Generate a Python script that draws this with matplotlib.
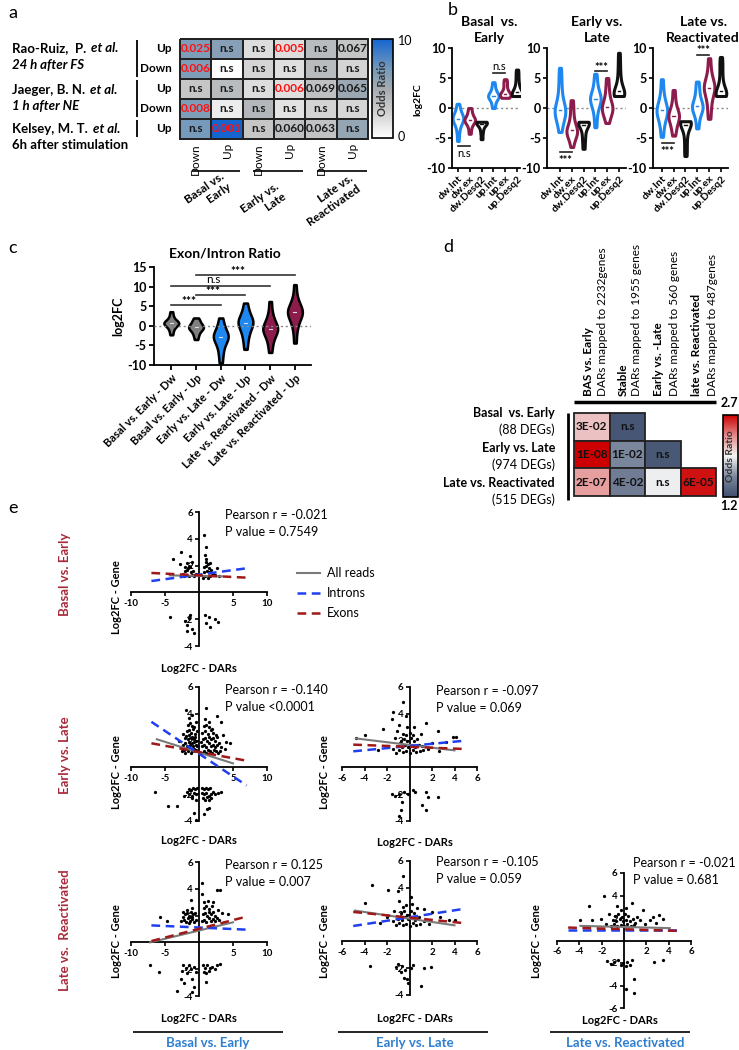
import matplotlib
matplotlib.use('Agg')
import matplotlib.pyplot as plt
import numpy as np
from matplotlib.colors import LinearSegmentedColormap, Normalize
from matplotlib.lines import Line2D
from matplotlib.patches import Rectangle
from matplotlib.cm import ScalarMappable

plt.rcParams['font.family'] = ['Lato', 'DejaVu Sans']
plt.rcParams['axes.linewidth'] = 1.3

# ---------------- data ----------------
# panel a
a_studies = [[('Rao-Ruiz,  P. ', 'normal'), ('et al.', 'italic')],
             [('24 h after FS', 'italic')],
             [('Jaeger, B. N. ', 'normal'), ('et al.', 'italic')],
             [('1 h after NE', 'italic')],
             [('Kelsey, M. T. ', 'normal'), ('et al.', 'italic')],
             [('6h after stimulation', 'normal')]]
a_rows = ['Up', 'Down', 'Up', 'Down', 'Up']
a_cols = ['Down', 'Up', 'Down', 'Up', 'Down', 'Up']
a_groups = ['Basal vs.\nEarly', 'Early vs.\nLate', 'Late vs.\nReactivated']
a_odds = [[6.6, 6.2, 1.9, 1.9, 3.9, 3.3],
          [6.6, 0.1, 2.4, 1.8, 3.9, 2.4],
          [3.2, 3.9, 1.9, 1.8, 3.6, 5.4],
          [6.6, 1.0, 4.2, 1.6, 2.4, 2.3],
          [6.9, 10.0, 3.2, 3.6, 3.5, 5.7]]
a_pvals = [['0.025', 'n.s', 'n.s', '0.005', 'n.s', '0.067'],
           ['0.006', 'n.s', 'n.s', 'n.s', 'n.s', 'n.s'],
           ['n.s', 'n.s', 'n.s', '0.006', '0.069', '0.065'],
           ['0.008', 'n.s', 'n.s', 'n.s', 'n.s', 'n.s'],
           ['n.s', '0.001', 'n.s', '0.060', '0.063', 'n.s']]

# panel b
b_titles = ['Basal  vs.\nEarly', 'Early vs.\nLate', 'Late vs.\nReactivated']
b_cats = ['dw.Int', 'dw.ex', 'dw.Desq2', 'up.Int', 'up.ex', 'up.Desq2']
b_be = [[-5.5, -4.2, -3.3, -2.8, -2.4, -2.1, -1.9, -1.8, -1.7, -1.5, -1.3, -1.0, -0.6, 0.0, 0.7],
        [-4.3, -3.4, -2.8, -2.4, -2.2, -2.1, -2.0, -1.9, -1.7, -1.4, -1.0, -0.5, 0.0],
        [-5.2, -4.2, -3.5, -3.0, -2.7, -2.5, -2.4, -2.35, -2.3, -2.3],
        [0.0, 0.6, 1.2, 1.6, 1.8, 1.9, 2.0, 2.1, 2.3, 2.6, 3.0, 3.6, 4.3],
        [1.7, 1.9, 2.0, 2.1, 2.2, 2.3, 2.5, 2.8, 3.2, 3.8, 4.3, 4.8],
        [2.0, 2.05, 2.1, 2.2, 2.3, 2.5, 2.8, 3.2, 3.8, 4.6, 5.5, 6.4]]
b_el = [[-4.0, -2.8, -2.0, -1.4, -1.0, -0.7, -0.5, -0.3, 0.0, 0.5, 1.2, 2.2, 3.5, 5.0, 6.7],
        [-6.5, -5.3, -4.7, -4.3, -4.1, -3.9, -3.7, -3.4, -2.9, -2.2, -1.2, 0.0, 1.3],
        [-6.8, -5.5, -4.5, -3.6, -3.0, -2.6, -2.4, -2.35, -2.3, -2.3],
        [-3.2, -1.5, -0.3, 0.5, 1.0, 1.3, 1.5, 1.7, 2.0, 2.5, 3.2, 4.3, 5.7],
        [-2.5, -1.6, -1.0, -0.6, -0.3, 0.0, 0.2, 0.5, 1.0, 1.6, 2.5, 3.6, 5.0],
        [2.0, 2.05, 2.1, 2.2, 2.3, 2.5, 2.8, 3.2, 3.9, 4.8, 6.0, 7.5, 9.2]]
b_lr = [[-4.8, -3.3, -2.3, -1.6, -1.1, -0.8, -0.5, -0.3, 0.0, 0.4, 1.0, 1.8, 3.0, 4.8],
        [-4.6, -3.6, -2.9, -2.3, -1.8, -1.5, -1.3, -1.1, -0.8, -0.3, 0.4, 1.5, 3.0],
        [-8.0, -6.5, -5.0, -3.8, -3.0, -2.6, -2.4, -2.3, -2.25, -2.2],
        [-3.4, -2.0, -1.0, -0.5, -0.2, 0.1, 0.3, 0.5, 0.9, 1.5, 2.3, 3.3, 4.4],
        [-1.8, -0.3, 1.0, 2.0, 2.7, 3.1, 3.4, 3.6, 3.9, 4.4, 5.2, 6.5, 8.3],
        [2.0, 2.05, 2.1, 2.2, 2.3, 2.5, 2.8, 3.3, 4.0, 5.0, 6.2, 7.4, 8.5]]
# significance: (pos1, pos2, line level, label)
b_sig = [[(1, 2, -6.3, 'n.s'), (4, 5, 5.9, 'n.s')],
         [(1, 2, -7.4, '***'), (4, 5, 6.2, '***')],
         [(1, 2, -5.9, '***'), (4, 5, 8.9, '***')]]

# panel c
c_cats = ['Basal vs. Early - Dw', 'Basal vs. Early - Up', 'Early vs. Late - Dw',
          'Early vs. Late - Up', 'Late vs. Reactivated - Dw', 'Late vs. Reactivated - Up']
c_vals = [[-2.3, -1.3, -0.6, -0.1, 0.3, 0.5, 0.6, 0.7, 0.8, 1.0, 1.3, 1.8, 2.6, 3.6],
          [-3.5, -2.5, -1.8, -1.2, -0.8, -0.6, -0.4, -0.2, 0.0, 0.4, 0.9, 1.4, 2.0],
          [-9.5, -7.5, -6.0, -4.8, -4.0, -3.4, -3.0, -2.7, -2.4, -2.0, -1.4, -0.6, 0.6, 2.0],
          [-6.0, -4.0, -2.6, -1.5, -0.6, 0.0, 0.5, 0.9, 1.2, 1.6, 2.2, 3.0, 4.2, 5.8],
          [-6.8, -4.8, -3.4, -2.4, -1.7, -1.2, -0.9, -0.6, -0.3, 0.2, 1.0, 2.0, 3.5, 6.2],
          [-4.4, -1.5, 0.3, 1.5, 2.3, 2.9, 3.3, 3.6, 3.9, 4.3, 5.0, 6.0, 7.5, 10.5]]
c_sig = [(1, 3, 5.3, '***'), (2, 4, 7.9, '***'), (1, 5, 10.2, 'n.s'), (2, 6, 13.0, '***')]

# panel d
d_cols_bold = ['BAS vs. Early', 'Stable', 'Early vs. -Late', 'late vs. Reactivated']
d_cols_sub = ['DARs mapped to 2232genes', 'DARs mapped to 1955 genes',
              'DARs mapped to 560 genes', 'DARs mapped to 487genes']
d_rows = ['Basal  vs. Early', 'Early vs. Late', 'Late vs. Reactivated']
d_rows_sub = ['(88 DEGs)', '(974 DEGs)', '(515 DEGs)']
d_odds = [[2.13, 1.25, np.nan, np.nan],
          [2.70, 1.57, 1.26, np.nan],
          [2.25, 1.50, 1.93, 2.65]]
d_pvals = [['3E-02', 'n.s', '', ''],
           ['1E-08', '1E-02', 'n.s', ''],
           ['2E-07', '4E-02', 'n.s', '6E-05']]

# panel e
e_rows = ['Basal vs. Early', 'Early vs. Late', 'Late vs.  Reactivated']
e_cols = ['Basal vs. Early', 'Early vs. Late', 'Late vs. Reactivated']
e_stats = {'be_be': ('Pearson r = -0.021', 'P value = 0.7549'),
           'el_be': ('Pearson r = -0.140', 'P value <0.0001'),
           'el_el': ('Pearson r = -0.097', 'P value = 0.069'),
           'lr_be': ('Pearson r = 0.125', 'P value = 0.007'),
           'lr_el': ('Pearson r = -0.105', 'P value = 0.059'),
           'lr_lr': ('Pearson r = -0.021', 'P value = 0.681')}
# regression fits: (x start, y start, x end, y end) for All reads, Introns, Exons
e_fits = {'be_be': [(-4.3, 1.27, 3.3, 1.2), (-7, 0.85, 7, 1.8), (-7, 1.45, 7, 1.1)],
          'el_be': [(-6.2, 2.1, 5.0, 0.3), (-7, 3.4, 7, -1.35), (-7, 1.8, 7, 0.5)],
          'el_el': [(-4.75, 2.16, 4.0, 1.27), (-5, 1.2, 5, 2.0), (-5, 1.7, 5, 1.37)],
          'lr_be': [(-7.2, 0.0, 5.0, 1.5), (-7, 1.27, 7, 0.95), (-7, 0.1, 6.8, 1.9)],
          'lr_el': [(-4.85, 2.3, 4.0, 1.2), (-5, 1.15, 5, 2.45), (-5, 2.2, 5, 1.35)],
          'lr_lr': [(-3.9, 1.3, 4.1, 1.1), (-5, 0.93, 5, 0.93), (-5, 1.15, 5, 0.85)]}
e_pts_be_be = [(-3.8, 2.5), (-2.6, 3.0), (-1.3, 2.75), (-2.8, 2.1), (-1.6, 1.8), (-2.2, 1.2), (-1.9, 1.3),
               (-1.5, 1.2), (-1.1, 1.3), (-0.7, 1.2), (-2.0, 1.6), (-1.7, 1.7), (-1.2, 1.5), (-0.9, 1.6),
               (-2.4, 1.4), (-1.4, 2.0), (-0.5, 1.4), (-1.8, 2.2), (-1.0, 2.3), (-1.3, 1.9), (-2.1, 1.9),
               (0.7, 4.25), (1.1, 3.4), (1.1, 2.5), (2.6, 1.8), (3.0, 1.2), (0.6, 1.1), (0.9, 1.2),
               (1.3, 1.1), (1.6, 1.2), (1.9, 1.3), (0.8, 1.5), (1.2, 1.6), (1.5, 1.5), (2.0, 1.4),
               (0.7, 1.9), (1.0, 2.0), (1.4, 1.8), (1.8, 1.7), (2.3, 1.3), (1.1, 2.3), (1.6, 2.2),
               (0.9, 2.8), (1.3, 2.1),
               (-4.3, -1.8), (-2.1, -2.1), (-1.8, -2.4), (-1.3, -1.7), (-1.0, -2.7), (-0.8, -3.0),
               (-1.8, -2.9), (0.9, -1.7), (1.4, -1.8), (1.1, -2.3), (1.6, -2.6), (2.8, -2.2), (2.3, -2.0),
               (-1.5, -1.9)]
e_pts_el_be = [(-2.5, 1.2), (-2.2, 1.3), (-2.0, 1.1), (-1.8, 1.4), (-1.6, 1.2), (-1.4, 1.35), (-1.2, 1.1),
               (-1.0, 1.25), (-0.8, 1.4), (-0.6, 1.2), (-0.4, 1.3), (-2.3, 1.7), (-2.0, 1.85), (-1.7, 1.6),
               (-1.5, 1.9), (-1.3, 1.7), (-1.1, 1.8), (-0.9, 1.6), (-0.7, 1.9), (-0.5, 1.7), (-0.3, 1.6),
               (-2.1, 2.2), (-1.9, 2.35), (-1.6, 2.1), (-1.4, 2.4), (-1.2, 2.2), (-1.0, 2.3), (-0.8, 2.1),
               (-0.6, 2.25), (-0.4, 2.0), (-1.8, 2.7), (-1.5, 2.8), (-1.2, 2.6), (-0.9, 2.9), (-0.6, 2.5),
               (-1.6, 3.2), (-1.3, 3.35), (-1.0, 3.1), (-0.7, 3.0), (-1.4, 3.7), (-1.1, 3.9), (-2.7, 1.5),
               (-3.0, 2.0), (-1.9, 4.3), (-2.4, 2.5), (-0.35, 2.7), (-0.5, 3.4), (-1.7, 1.45),
               (0.4, 1.1), (0.7, 1.25), (1.0, 1.1), (1.3, 1.3), (1.6, 1.2), (1.9, 1.1), (2.2, 1.3),
               (2.5, 1.2), (2.8, 1.1), (3.1, 1.25), (0.5, 1.6), (0.8, 1.7), (1.1, 1.5), (1.4, 1.8),
               (1.7, 1.6), (2.0, 1.7), (2.3, 1.5), (2.6, 1.65), (2.9, 1.8), (3.3, 1.5), (0.6, 2.1),
               (0.9, 2.2), (1.2, 2.0), (1.5, 2.3), (1.8, 2.1), (2.1, 2.2), (2.4, 2.0), (2.7, 2.3),
               (0.5, 2.6), (0.9, 2.7), (1.3, 2.5), (1.7, 2.8), (2.1, 2.6), (2.5, 2.4), (0.7, 3.1),
               (1.1, 3.2), (1.5, 3.0), (1.9, 2.9), (0.9, 3.6), (1.4, 3.4), (3.6, 2.4), (4.0, 1.9),
               (4.5, 1.8), (3.3, 3.4), (2.6, 3.8), (1.0, 4.4), (3.8, 1.4), (0.3, 1.9),
               (-0.3, -1.5), (-0.6, -1.6), (-0.9, -1.5), (-1.2, -1.7), (-1.5, -1.6), (-0.4, -2.0),
               (-0.8, -1.9), (-1.1, -2.1), (-1.4, -2.0), (-0.5, -2.4), (-1.0, -2.3), (-1.8, -1.8),
               (-2.2, -2.1), (-4.5, -2.9), (-3.2, -2.9), (-0.7, -3.4), (-6.4, -1.8), (-0.5, -3.9),
               (0.4, -1.5), (0.7, -1.6), (1.0, -1.5), (1.3, -1.6), (1.6, -1.5), (0.5, -1.9), (0.8, -2.0),
               (1.1, -1.9), (1.4, -2.1), (1.7, -2.0), (2.0, -1.8), (0.6, -2.3), (0.9, -2.4), (1.2, -2.2),
               (1.5, -2.4), (1.8, -2.3), (2.3, -2.0), (2.8, -1.9), (3.3, -1.8), (1.2, -3.1), (0.8, -3.5),
               (1.5, -3.0)]
e_pts_el_el = [(-0.6, 4.9), (-1.5, 4.1), (-1.6, 3.6), (-2.4, 2.9), (-4.0, 2.4), (-4.8, 2.2), (1.5, 3.3),
               (2.5, 2.7), (3.85, 2.26), (4.1, 2.3), (3.2, 1.9), (-0.9, 3.2), (-0.3, 3.8), (0.4, 3.0),
               (-1.2, 1.1), (-0.9, 1.3), (-0.6, 1.15), (-0.3, 1.25), (0.0, 1.1), (0.3, 1.3), (0.6, 1.15),
               (0.9, 1.2), (1.2, 1.3), (-1.0, 1.6), (-0.7, 1.5), (-0.4, 1.7), (-0.1, 1.55), (0.2, 1.65),
               (0.5, 1.5), (0.8, 1.7), (1.1, 1.6), (-0.8, 2.0), (-0.5, 2.1), (-0.2, 1.95), (0.1, 2.2),
               (0.4, 2.0), (0.7, 2.1), (-0.6, 2.5), (-0.3, 2.4), (0.0, 2.6), (0.3, 2.45), (-1.5, 1.4),
               (-2.0, 1.6), (1.6, 1.4), (2.0, 1.8), (-1.3, 2.2), (1.0, 2.5), (-2.8, 1.3), (2.6, 1.2),
               (-0.2, 3.0), (-1.1, 2.7),
               (-1.6, -1.95), (-1.3, -2.1), (-0.9, -1.95), (-0.5, -1.8), (-0.1, -2.0), (0.3, -1.7),
               (-0.7, -2.6), (-0.8, -3.2), (-0.9, -3.6), (1.5, -1.8), (1.6, -2.2), (2.5, -2.2),
               (1.1, -2.8), (1.5, -3.2), (0.45, -1.8)]
e_pts_lr_be = [(-5.7, 1.9), (-4.7, 1.6), (-2.4, 1.9), (-1.0, 2.6), (-1.2, 3.2), (-2.6, 1.6), (-2.2, 1.7),
               (-1.9, 1.55), (-1.6, 1.8), (-1.3, 1.6), (-1.0, 1.75), (-0.7, 1.55), (-0.4, 1.7), (-2.1, 2.1),
               (-1.8, 2.2), (-1.5, 2.0), (-1.2, 2.3), (-0.9, 2.1), (-0.6, 2.2), (-1.7, 2.4), (-1.1, 1.9),
               (-2.3, 2.3), (-1.4, 1.45),
               (0.5, 4.4), (0.4, 3.6), (2.6, 3.9), (3.1, 3.9), (4.3, 2.1), (2.1, 3.0), (0.5, 1.6),
               (0.8, 1.7), (1.1, 1.55), (1.4, 1.8), (1.7, 1.6), (2.0, 1.75), (2.3, 1.6), (2.6, 1.8),
               (3.0, 1.65), (0.6, 2.1), (0.9, 2.2), (1.2, 2.0), (1.5, 2.3), (1.8, 2.1), (2.1, 2.25),
               (2.4, 2.0), (2.8, 2.4), (0.7, 2.6), (1.1, 2.7), (1.5, 2.5), (1.9, 2.75), (3.4, 2.2),
               (1.3, 3.1), (0.8, 3.0),
               (-7.2, -1.65), (-5.9, -2.2), (-2.7, -2.7), (-2.2, -3.0), (-1.0, -2.7), (-3.2, -3.6),
               (-1.0, -3.7), (-0.7, -3.3), (-2.3, -1.7), (-1.9, -1.9), (-1.5, -1.7), (-1.2, -2.0),
               (-0.8, -1.8), (-0.5, -2.2), (-1.7, -2.3), (-2.5, -2.1), (1.1, -2.95), (1.6, -1.9),
               (3.1, -1.6), (0.6, -1.7), (0.9, -1.9), (1.2, -1.7), (1.5, -2.1), (1.9, -1.8), (2.3, -2.0),
               (0.7, -2.2), (1.0, -2.3), (2.6, -1.7)]
e_pts_lr_el = [(-3.3, 4.2), (-0.6, 4.9), (-1.0, 3.75), (-1.9, 3.8), (0.1, 3.3), (-4.0, 2.9), (1.3, 2.4),
               (4.0, 1.6), (3.5, 1.6), (2.0, 2.2), (-1.2, 1.2), (-0.9, 1.35), (-0.6, 1.2), (-0.3, 1.3),
               (0.0, 1.15), (0.3, 1.35), (0.6, 1.2), (0.9, 1.3), (-1.0, 1.7), (-0.7, 1.6), (-0.4, 1.8),
               (-0.1, 1.65), (0.2, 1.75), (0.5, 1.6), (0.8, 1.8), (-0.8, 2.1), (-0.5, 2.25), (-0.2, 2.0),
               (0.1, 2.3), (0.4, 2.1), (-0.6, 2.6), (-0.3, 2.7), (0.2, 2.8), (-1.5, 1.5), (-2.0, 1.8),
               (1.3, 1.5), (1.7, 1.3), (-1.4, 2.3), (-0.9, 3.0), (-2.6, 1.4), (2.7, 1.8), (0.7, 2.5),
               (-1.0, -1.7), (-0.7, -1.85), (-0.4, -2.1), (0.1, -2.0), (-0.8, -2.3), (-0.5, -2.7),
               (-0.2, -2.8), (-0.1, -3.1), (1.0, -3.3), (1.3, -2.0), (1.9, -1.9), (-3.5, -1.8),
               (-1.2, -1.9), (0.3, -1.75)]
e_pts_lr_lr = [(-1.8, 3.95), (0.7, 3.3), (-3.1, 3.05), (-3.9, 1.8), (-2.9, 1.8), (1.7, 2.7), (3.1, 2.25),
               (3.5, 1.9), (2.3, 1.8), (1.4, 1.8), (-1.2, 1.3), (-0.9, 1.45), (-0.6, 1.3), (-0.3, 1.4),
               (0.0, 1.25), (0.3, 1.45), (0.6, 1.3), (0.9, 1.4), (-1.0, 1.8), (-0.7, 1.7), (-0.4, 1.9),
               (-0.1, 1.75), (0.2, 1.85), (0.5, 1.7), (0.8, 1.9), (-0.8, 2.2), (-0.5, 2.35), (-0.2, 2.1),
               (0.1, 2.4), (0.4, 2.2), (-0.3, 2.7), (0.2, 2.9), (-1.6, 1.5), (-2.1, 1.9), (1.2, 2.1),
               (1.9, 1.5), (2.6, 2.1), (-1.3, 2.4), (1.0, 1.6), (2.9, 1.6), (-0.6, 3.1),
               (-0.9, -1.9), (-0.5, -1.75), (-0.1, -2.0), (0.3, -1.9), (0.7, -1.75), (-1.2, -2.1),
               (2.7, -1.9), (3.5, -1.7), (0.9, -3.45), (0.2, -4.35), (0.9, -4.65), (0.2, -2.3),
               (-0.3, -2.2), (0.5, -2.15), (-1.5, -1.8)]

# ---------------- figure helpers ----------------
W, H = 739, 1050
fig = plt.figure(figsize=(W / 100, H / 100), dpi=100)
renderer = fig.canvas.get_renderer()


def AX(x0, y0, x1, y1):
    ax = fig.add_axes([x0 / W, 1 - y1 / H, (x1 - x0) / W, (y1 - y0) / H])
    ax.patch.set_alpha(0)
    return ax


def T(x, y, s, **kw):
    kw.setdefault('ha', 'left')
    kw.setdefault('va', 'center')
    return fig.text(x / W, 1 - y / H, s, **kw)


def LINE(x0, y0, x1, y1, lw=1.3, color='black'):
    fig.add_artist(Line2D([x0 / W, x1 / W], [1 - y0 / H, 1 - y1 / H], lw=lw, color=color,
                          solid_capstyle='butt'))


BLUE = '#1e88f0'
MAROON = '#8c1c4c'
ROWRED = '#a82a3a'
COLBLUE = '#2f7fd0'

# ================= panel a =================
T(8, 13, 'a', fontsize=13)
ys_txt = [48, 65, 90, 106, 129, 145]
for parts, yy in zip(a_studies, ys_txt):
    x = 12
    for s, st in parts:
        t = T(x, yy, s.strip(), fontsize=9.5, fontweight='bold', fontstyle=st)
        x += t.get_window_extent(renderer).width + 5
for (y0, y1) in [(40, 77), (80, 117), (120, 137)]:
    LINE(137, y0, 137, y1, lw=1.3)
for i, lab in enumerate(a_rows):
    T(172, 49 + 20 * i, lab, ha='right', fontsize=8.5, fontweight='bold')

cmap_a = LinearSegmentedColormap.from_list(
    'odds_a', [(0, '#ffffff'), (0.3, '#c9c9c9'), (0.5, '#a5abb1'), (0.7, '#7399bb'), (1.0, '#1565d0')])
axa = AX(180, 39, 368, 139)
axa.pcolormesh(np.array(a_odds), cmap=cmap_a, vmin=0, vmax=10, edgecolors='#222222',
               linewidth=1.3, clip_on=False)
axa.set_xlim(0, 6)
axa.set_ylim(5, 0)
axa.axis('off')
for i in range(5):
    for j in range(6):
        s = a_pvals[i][j]
        red = (s != 'n.s') and float(s) < 0.05
        axa.text(j + 0.5, i + 0.5, s, ha='center', va='center', fontsize=8.5, fontweight='bold',
                 color='#ff1010' if red else '#1a1a1a')
for j, lab in enumerate(a_cols):
    xc = 180 + (j + 0.5) * 188 / 6
    T(xc, 143, lab, rotation=90, ha='center', va='top', fontsize=8.5)
for (x0, x1) in [(192, 240), (253, 303), (317, 367)]:
    LINE(x0, 171, x1, 171, lw=1.2)
for lab, (xc, yc) in zip(a_groups, [(208, 193), (263, 203), (330, 200)]):
    T(xc, yc, lab, rotation=35, ha='center', va='center', ma='right', fontsize=8.5,
      fontweight='bold', linespacing=1.1)
axcb = AX(372, 39, 393, 138)
cb = fig.colorbar(ScalarMappable(norm=Normalize(0, 10), cmap=cmap_a), cax=axcb)
cb.set_ticks([])
cb.outline.set_linewidth(1.2)
T(382.5, 88, 'Odds Ratio', rotation=90, ha='center', fontsize=8, fontweight='bold', color='#333333')
T(398, 41, '10', fontsize=9)
T(398, 137, '0', fontsize=9)

# ================= panel b =================
T(448, 10, 'b', fontsize=13)
b_boxes = [(452, 48, 520, 168), (547, 48, 626, 168), (653, 48, 728, 168)]
b_xlims = [(0.5, 6.25), (-0.1, 6.6), (0.25, 6.6)]
b_title_x = [489, 597, 703]
b_cols = [BLUE, MAROON, '#111111'] * 2
for k, data in enumerate([b_be, b_el, b_lr]):
    ax = AX(*b_boxes[k])
    parts = ax.violinplot(data, positions=range(1, 7), widths=0.9, showextrema=False, bw_method=0.45)
    for body, col in zip(parts['bodies'], b_cols):
        body.set_facecolor('white')
        body.set_edgecolor(col)
        body.set_linewidth(2.2)
        body.set_alpha(1)
    for p, (vals, col) in enumerate(zip(data, b_cols)):
        m = np.median(vals)
        ax.plot([p + 1 - 0.1, p + 1 + 0.1], [m, m], color=col, lw=1.0)
    ax.axhline(0, color='#888888', lw=1.0, ls=(0, (1.5, 2)), zorder=0)
    for (p1, p2, lvl, lab) in b_sig[k]:
        ax.plot([p1, p2], [lvl, lvl], color='#222222', lw=1.2)
        if lvl < 0:
            ax.text((p1 + p2) / 2, lvl - 0.4, lab, ha='center', va='top', fontsize=8,
                    fontweight='bold' if lab == '***' else 'normal')
        else:
            ax.text((p1 + p2) / 2, lvl + (0.1 if lab == 'n.s' else -0.3), lab, ha='center',
                    va='bottom', fontsize=8, fontweight='bold' if lab == '***' else 'normal')
    ax.set_ylim(-10, 10)
    ax.set_xlim(*b_xlims[k])
    ax.set_yticks([-10, -5, 0, 5, 10])
    ax.set_yticklabels(['-10', '-5', '0', '5', '10'], fontsize=9, fontweight='bold')
    ax.set_xticks(range(1, 7))
    ax.set_xticklabels(b_cats, rotation=45, ha='right', rotation_mode='anchor', fontsize=7.5,
                       fontweight='bold')
    ax.tick_params(length=3, width=1.2, pad=1.5)
    ax.spines['top'].set_visible(False)
    ax.spines['right'].set_visible(False)
    T(b_title_x[k], 30, b_titles[k], ha='center', fontsize=10, fontweight='bold', linespacing=1.35)
T(418, 100, 'log2FC', rotation=90, ha='center', fontsize=7.5, fontweight='bold')

# ================= panel c =================
T(8, 248, 'c', fontsize=13)
T(225, 253, 'Exon/Intron Ratio', ha='center', fontsize=10, fontweight='bold')
axc = AX(154, 267, 311, 365)
c_colors = ['#7f7f7f', '#7f7f7f', BLUE, BLUE, MAROON, MAROON]
parts = axc.violinplot(c_vals, positions=range(1, 7), widths=0.6, showextrema=False, bw_method=0.45)
for body, col in zip(parts['bodies'], c_colors):
    body.set_facecolor(col)
    body.set_edgecolor('black')
    body.set_linewidth(1.8)
    body.set_alpha(1)
for p, vals in enumerate(c_vals):
    m = np.median(vals)
    axc.plot([p + 1 - 0.06, p + 1 + 0.06], [m, m], color='#dddddd', lw=0.8)
axc.axhline(0, color='#888888', lw=1.0, ls=(0, (1.5, 2)), zorder=3)
for (p1, p2, lvl, lab) in c_sig:
    axc.plot([p1, p2], [lvl, lvl], color='#333333', lw=1.2, clip_on=False)
    axc.text((p1 + p2) / 2 - 0.3, lvl + (0.3 if lab == 'n.s' else -0.5), lab, ha='center', va='bottom',
             fontsize=8.5, fontweight='bold' if lab == '***' else 'normal', clip_on=False)
axc.set_ylim(-10, 15)
axc.set_xlim(0.3, 6.65)
axc.set_yticks([-10, -5, 0, 5, 10, 15])
axc.set_yticklabels(['-10', '-5', '0', '5', '10', '15'], fontsize=9, fontweight='bold')
axc.set_xticks(range(1, 7))
axc.set_xticklabels(c_cats, rotation=45, ha='right', rotation_mode='anchor', fontsize=8,
                    fontweight='bold')
axc.tick_params(length=3.5, width=1.3, pad=2)
axc.spines['top'].set_visible(False)
axc.spines['right'].set_visible(False)
T(118, 316, 'log2FC', rotation=90, ha='center', fontsize=9, fontweight='bold')

# ================= panel d =================
T(443, 247, 'd', fontsize=13)
cmap_d = LinearSegmentedColormap.from_list(
    'odds_d', [(0, '#3f4f6e'), (0.25, '#7b879c'), (0.5, '#f4f4f4'), (0.75, '#e38a8a'), (1.0, '#cc0000')])
norm_d = Normalize(1.2, 2.7)
axd = AX(574, 413, 716, 496)
for i in range(3):
    for j in range(4):
        v = d_odds[i][j]
        if np.isnan(v):
            continue
        axd.add_patch(Rectangle((j, i), 1, 1, facecolor=cmap_d(norm_d(v)), edgecolor='#222222',
                                linewidth=1.3, clip_on=False))
        axd.text(j + 0.5, i + 0.5, d_pvals[i][j], ha='center', va='center', fontsize=8.5,
                 fontweight='bold', color='#111111')
axd.set_xlim(0, 4)
axd.set_ylim(3, 0)
axd.axis('off')
LINE(574, 402, 716, 402, lw=2.5)
LINE(568, 413, 568, 500, lw=2.0)
hdr_x = [(588, 603), (623, 637), (659, 674), (696, 712)]
for (xb, xs), b, s in zip(hdr_x, d_cols_bold, d_cols_sub):
    T(xb, 396, b, rotation=90, rotation_mode='anchor', ha='left', va='center', fontsize=8.5,
      fontweight='bold')
    T(xs, 396, s, rotation=90, rotation_mode='anchor', ha='left', va='center', fontsize=8.5)
for i, (r, s) in enumerate(zip(d_rows, d_rows_sub)):
    T(555, 413 + 35 * i, r, ha='right', fontsize=9, fontweight='bold')
    T(555, 430 + 35 * i, s, ha='right', fontsize=9)
axcbd = AX(723, 415, 738, 497)
cbd = fig.colorbar(ScalarMappable(norm=norm_d, cmap=cmap_d), cax=axcbd)
cbd.set_ticks([])
cbd.outline.set_linewidth(1.2)
T(730.5, 456, 'Odds Ratio', rotation=90, ha='center', fontsize=7.5, fontweight='bold', color='#333333')
T(729, 403, '2.7', ha='center', fontsize=9, fontweight='bold')
T(729, 506, '1.2', ha='center', fontsize=9, fontweight='bold')

# ================= panel e =================
T(8, 508, 'e', fontsize=13)
GRAY = '#7a7a7a'
INTRON = '#2040f0'
EXON = '#a01818'


def scatter_panel(box, xlim, ylim, xticks, yticks, pts, key):
    ax = AX(*box)
    arr = np.array(pts)
    ax.scatter(arr[:, 0], arr[:, 1], s=5.5, color='black', linewidths=0, zorder=2)
    f_all, f_int, f_ex = e_fits[key]
    ax.plot([f_all[0], f_all[2]], [f_all[1], f_all[3]], color=GRAY, lw=1.5, zorder=3)
    ax.plot([f_int[0], f_int[2]], [f_int[1], f_int[3]], color=INTRON, lw=1.8, ls=(0, (3.5, 2.2)), zorder=4)
    ax.plot([f_ex[0], f_ex[2]], [f_ex[1], f_ex[3]], color=EXON, lw=1.8, ls=(0, (3.5, 2.2)), zorder=4)
    ax.set_xlim(*xlim)
    ax.set_ylim(*ylim)
    ax.spines['left'].set_position(('data', 0))
    ax.spines['bottom'].set_position(('data', 0))
    ax.spines['right'].set_visible(False)
    ax.spines['top'].set_visible(False)
    ax.set_xticks(xticks)
    ax.set_xticklabels([str(v) for v in xticks], fontsize=7, fontweight='bold')
    ax.set_yticks(yticks)
    ax.set_yticklabels([str(v) for v in yticks], fontsize=7, fontweight='bold')
    ax.tick_params(length=3, width=1.2, pad=1.5)
    return ax


tx10 = [-10, -5, 5, 10]
tx6 = [-6, -4, -2, 2, 4, 6]
ty6 = [-4, -2, 2, 4, 6]
panels = [
    ((131, 512, 267, 646), (-10, 10), (-4, 6), tx10, ty6, e_pts_be_be, 'be_be', 225, 515, 117, 597, 199, 668),
    ((131, 687, 267, 821), (-10, 10), (-4, 6), tx10, ty6, e_pts_el_be, 'el_be', 225, 690, 117, 772, 199, 840),
    ((342, 687, 477, 821), (-6, 6), (-4, 6), tx6, ty6, e_pts_el_el, 'el_el', 436, 691, 325, 772, 415, 843),
    ((131, 862, 267, 996), (-10, 10), (-4, 6), tx10, ty6, e_pts_lr_be, 'lr_be', 225, 865, 117, 941, 199, 1019),
    ((342, 861, 477, 995), (-6, 6), (-4, 6), tx6, ty6, e_pts_lr_el, 'lr_el', 436, 862, 325, 941, 415, 1019),
    ((557, 873, 691, 1008), (-6, 6), (-6, 6), tx6, [-6, -4, -2, 2, 4, 6], e_pts_lr_lr, 'lr_lr', 633, 863, 537, 941, 620, 1020),
]
for (box, xl, yl, xt, yt, pts, key, px, py, ylx, yly, xlx, xly) in panels:
    scatter_panel(box, xl, yl, xt, yt, pts, key)
    r, p = e_stats[key]
    T(px, py, r, fontsize=9)
    T(px, py + 17, p, fontsize=9)
    T(ylx, yly, 'Log2FC - Gene', rotation=90, ha='center', fontsize=8, fontweight='bold')
    T(xlx, xly, 'Log2FC - DARs', ha='center', fontsize=8, fontweight='bold')

handles = [Line2D([], [], color=GRAY, lw=1.5),
           Line2D([], [], color=INTRON, lw=1.8, ls=(0, (3.5, 2.2))),
           Line2D([], [], color=EXON, lw=1.8, ls=(0, (3.5, 2.2)))]
fig.legend(handles, ['All reads', 'Introns', 'Exons'], loc='upper left',
           bbox_to_anchor=(292 / W, 1 - 562 / H), frameon=False, fontsize=9, handlelength=1.8,
           labelspacing=0.65, handletextpad=0.6, borderaxespad=0)

for lab, yc in zip(e_rows, [574, 755, 930]):
    T(65, yc, lab, rotation=90, ha='center', fontsize=9.5, fontweight='bold', color=ROWRED)
for lab, xc, (x0, x1) in zip(e_cols, [208, 415, 625], [(133, 283), (338, 488), (550, 690)]):
    LINE(x0, 1032, x1, 1032, lw=1.2)
    T(xc, 1043, lab, ha='center', fontsize=9.5, fontweight='bold', color=COLBLUE)

fig.savefig('out.png', dpi=100)
